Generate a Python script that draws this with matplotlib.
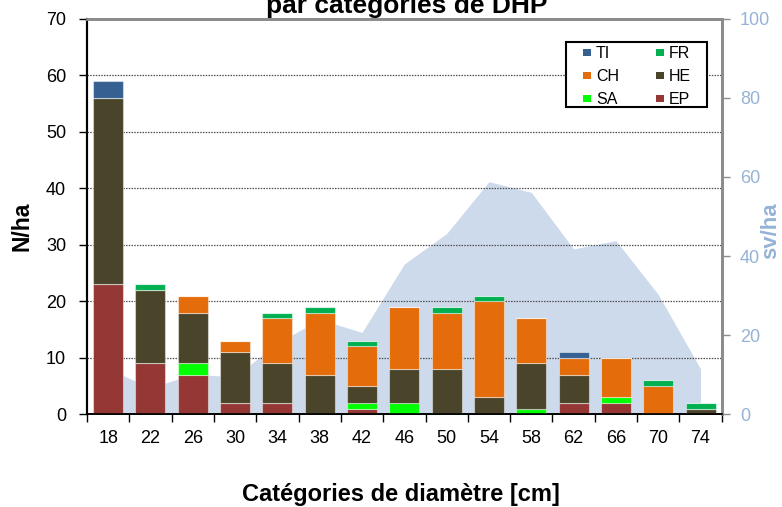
import matplotlib
matplotlib.use("Agg")
import matplotlib.pyplot as plt
import numpy as np
from matplotlib.patches import Patch, Rectangle

categories = ["18", "22", "26", "30", "34", "38", "42", "46", "50", "54", "58", "62", "66", "70", "74"]
EP = [23, 9, 7, 2, 2, 0, 1, 0, 0, 0, 0, 2, 2, 0, 0]
SA = [0, 0, 2, 0, 0, 0, 1, 2, 0, 0, 1, 0, 1, 0, 0]
HE = [33, 13, 9, 9, 7, 7, 3, 6, 8, 3, 8, 5, 0, 0, 1]
CH = [0, 0, 3, 2, 8, 11, 7, 11, 10, 17, 8, 3, 7, 5, 0]
FR = [0, 1, 0, 0, 1, 1, 1, 0, 1, 1, 0, 0, 0, 1, 1]
TI = [3, 0, 0, 0, 0, 0, 0, 0, 0, 0, 0, 1, 0, 0, 0]
sv_ha = [11.5, 6.7, 10.1, 9.5, 18, 24, 20.7, 38, 45.7, 58.8, 56.1, 41.8, 43.9, 30.3, 11.5]

series = [("EP", EP, "#953735"), ("SA", SA, "#00FF00"), ("HE", HE, "#4A452A"),
          ("CH", CH, "#E46C0A"), ("FR", FR, "#00B050"), ("TI", TI, "#376092")]

reg = ["Liberation Sans", "DejaVu Sans"]
W, H = 782, 507

fig = plt.figure(figsize=(7.82, 5.07), dpi=100)
ax = fig.add_axes([87/W, 1-414.3/H, (721.7-87)/W, (414.3-18.7)/H])
ax2 = ax.twinx()
ax.set_zorder(ax2.get_zorder() + 1)
ax.patch.set_visible(False)

x = np.arange(len(categories))
ax2.fill_between(x, 0, sv_ha, color="#CDDAEB", linewidth=0)
ax2.set_ylim(0, 100)

bottom = np.zeros(len(categories))
handles = {}
for name, vals, col in series:
    v = np.array(vals, dtype=float)
    ax.bar(x, v, 0.71, bottom=bottom, color=col, edgecolor=(1, 1, 1, 0.45), linewidth=0.8)
    handles[name] = Patch(facecolor=col, edgecolor="none")
    bottom += v

ax.set_xlim(-0.5, len(categories) - 0.5)
ax.set_ylim(0, 70)
ax.set_yticks(np.arange(0, 71, 10))
for yv in range(10, 70, 10):
    ax.axhline(yv, color="#505050", linestyle=(0, (1.2, 1)), linewidth=0.9, zorder=0.5)

ax.set_xticks(x)
ax.set_xticklabels(categories)
ax.set_xticks(np.arange(-0.5, len(categories), 1), minor=True)
ax.tick_params(axis="x", which="major", length=0, pad=11)
ax.tick_params(axis="x", which="minor", length=6, width=1, color="black", direction="out")
ax.tick_params(axis="y", length=6, width=1, color="black", direction="out", pad=9)
for lab in ax.get_xticklabels() + ax.get_yticklabels():
    lab.set_fontfamily(reg)
    lab.set_fontsize(13)

ax2.set_yticks(np.arange(0, 101, 20))
ax2.tick_params(axis="y", length=6, width=1, color="#8C8C8C", direction="out", pad=7,
                labelcolor="#95B3D7")
for lab in ax2.get_yticklabels():
    lab.set_fontfamily(reg)
    lab.set_fontsize(13)

for a in (ax, ax2):
    a.spines["left"].set_color("black")
    a.spines["left"].set_linewidth(1.5)
    a.spines["bottom"].set_color("black")
    a.spines["bottom"].set_linewidth(1.2)
    a.spines["top"].set_color("#8C8C8C")
    a.spines["top"].set_linewidth(2)
    a.spines["right"].set_color("#8C8C8C")
    a.spines["right"].set_linewidth(2)

# legend frame and legend
frame = Rectangle((566/W, 1-107.3/H), (707-566)/W, (107.3-41.7)/H, transform=fig.transFigure,
                  facecolor="white", edgecolor="black", linewidth=1.5, zorder=5)
fig.patches.append(frame)

order = ["TI", "CH", "SA", "FR", "HE", "EP"]
leg = fig.legend([handles[n] for n in order], order, ncol=2, loc="upper left",
                 bbox_to_anchor=(583/W, 1-46/H), bbox_transform=fig.transFigure,
                 borderaxespad=0, frameon=False, borderpad=0,
                 handlelength=0.5, handleheight=0.3, handletextpad=0.3,
                 columnspacing=2.3, labelspacing=0.5,
                 prop={"family": reg, "size": 11.5})
leg.set_zorder(6)

fig.text(407/W, 1-13/H, "par catégories de DHP", ha="center", va="baseline",
         fontsize=19, fontweight="bold", family=reg)
fig.text(401/W, 1-500.7/H, "Catégories de diamètre [cm]", ha="center", va="baseline",
         fontsize=17, fontweight="bold", family=reg)
fig.text(22.5/W, 1-226/H, "N/ha", ha="center", va="center", rotation=90,
         fontsize=16.5, fontweight="bold", family=reg)
fig.text(770.5/W, 1-231/H, "sv/ha", ha="center", va="center", rotation=90,
         fontsize=16, fontweight="bold", family=reg, color="#95B3D7")

fig.savefig("out.png", dpi=100)
